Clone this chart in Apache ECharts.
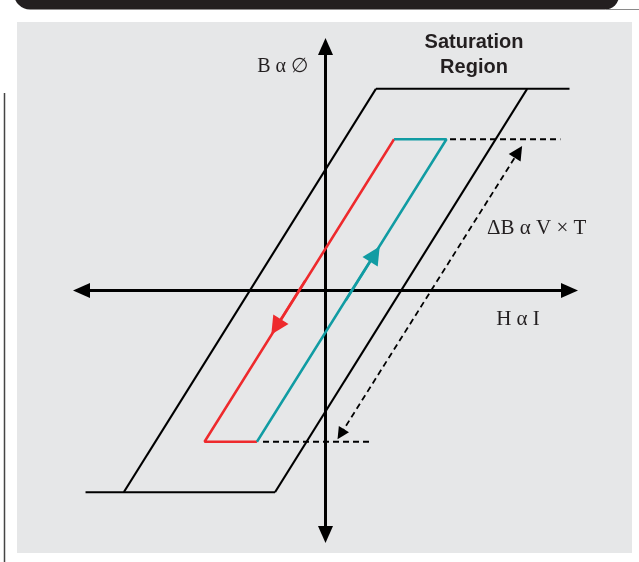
<html>
<head>
<meta charset="UTF-8">
<title>B-H loop</title>
<script src="https://cdn.jsdelivr.net/npm/echarts@6/dist/echarts.min.js"></script>
<style>
    html, body{
        margin: 0;
        padding: 0;
        background: #fff;
    }
    #main{
        width: 639px;
        height: 562px;
    }
</style>
</head>
<body>
<div id="main"></div>
<script>
// points are [H, B], 1 unit ~ 100 px
var saturationTop = [[0.5, 2], [2.42, 2]];
var saturationBottom = [[-2.38, -2], [-0.5, -2]];
var outerRising = [[-2, -2], [0.5, 2]];
var outerFalling = [[2, 2], [-0.5, -2]];
var redBranch = [[-0.68, -1.5], [-1.2, -1.5], [0.68, 1.5]];
var tealBranch = [[0.68, 1.5], [1.2, 1.5], [-0.68, -1.5]];
var deltaTop = [[1.235, 1.5], [2.33, 1.5]];
var deltaBottom = [[-0.62, -1.5], [0.46, -1.5]];
var deltaArrow = [[0.151, -1.425], [1.913, 1.375]];
var tealArrow = [[0.2, -0.1], [0.49, 0.36]];
var redArrow = [[-0.2, 0.1], [-0.49, -0.36]];
var axisRange = [-2.42, 2.42];

var black = '#000';
var red = '#ee2a2d';
var teal = '#119ca3';

function seg(data, color, width, type) {
    return {
        type: 'line',
        data: data,
        symbol: 'none',
        silent: true,
        lineStyle: { color: color, width: width, type: type || 'solid' },
        z: 3
    };
}

function arrow(coords, color, width, size, type, both) {
    return {
        type: 'lines',
        coordinateSystem: 'cartesian2d',
        symbol: both ? ['triangle', 'triangle'] : ['none', 'triangle'],
        symbolSize: size,
        silent: true,
        lineStyle: { color: color, width: width, type: type || 'solid', opacity: 1, curveness: 0 },
        data: [{ coords: coords }],
        z: 4
    };
}

var myChart = echarts.init(document.getElementById('main'));

var option = {
    animation: false,
    backgroundColor: '#fff',
    grid: {
        left: 81.5,
        top: 46.5,
        width: 488,
        height: 488,
        outerBoundsMode: 'none'
    },
    xAxis: {
        type: 'value',
        min: axisRange[0],
        max: axisRange[1],
        splitLine: { show: false },
        axisTick: { show: false },
        axisLabel: { show: false },
        axisLine: {
            show: true,
            onZero: true,
            symbol: ['triangle', 'triangle'],
            symbolSize: [15, 17],
            lineStyle: { color: '#000', width: 3 }
        }
    },
    yAxis: {
        type: 'value',
        min: axisRange[0],
        max: axisRange[1],
        splitLine: { show: false },
        axisTick: { show: false },
        axisLabel: { show: false },
        axisLine: {
            show: true,
            onZero: true,
            symbol: ['triangle', 'triangle'],
            symbolSize: [15, 17],
            lineStyle: { color: '#000', width: 3 }
        }
    },
    graphic: [
        // grey panel
        { type: 'rect', z: -10, shape: { x: 17, y: 22, width: 615, height: 531 }, style: { fill: '#e6e7e8' } },
        // header strip
        { type: 'rect', z: -10, shape: { x: 14, y: -20, width: 605, height: 29.5, r: [0, 0, 14, 16] }, style: { fill: '#231f20' } },
        { type: 'line', z: -10, shape: { x1: 606, y1: 9.5, x2: 639, y2: 9.5 }, style: { stroke: '#8a8a8a', lineWidth: 1 } },
        { type: 'line', z: -10, shape: { x1: 4.5, y1: 93, x2: 4.5, y2: 562 }, style: { stroke: '#444', lineWidth: 1.5 } },
        // labels
        { type: 'text', x: 308, y: 67, style: { text: 'B α ∅', fill: '#231f20', font: '20px "Liberation Serif", "DejaVu Serif", serif', textAlign: 'right', textVerticalAlign: 'middle' } },
        { type: 'text', x: 474, y: 55, style: { text: 'Saturation\nRegion', fill: '#231f20', font: 'bold 20px "Liberation Sans", Arial, sans-serif', textAlign: 'center', textVerticalAlign: 'middle', lineHeight: 25 } },
        { type: 'text', x: 487, y: 228, style: { text: 'ΔB α V × T', fill: '#231f20', font: '21px "Liberation Serif", "DejaVu Serif", serif', textAlign: 'left', textVerticalAlign: 'middle' } },
        { type: 'text', x: 518, y: 319, style: { text: 'H α I', fill: '#231f20', font: '21px "Liberation Serif", "DejaVu Serif", serif', textAlign: 'center', textVerticalAlign: 'middle' } }
    ],
    series: [
        seg(saturationTop, black, 2),
        seg(saturationBottom, black, 2),
        seg(outerRising, black, 2),
        seg(outerFalling, black, 2),
        seg(redBranch, red, 2.5),
        seg(tealBranch, teal, 2.5),
        seg(deltaTop, black, 1.8, [6, 4]),
        seg(deltaBottom, black, 1.8, [6, 4]),
        arrow(deltaArrow, black, 1.8, [12, 14], [6, 4], true),
        arrow(tealArrow, teal, 2.5, [15, 18]),
        arrow(redArrow, red, 2.5, [15, 18])
    ]
};

myChart.setOption(option);
</script>
</body>
</html>
